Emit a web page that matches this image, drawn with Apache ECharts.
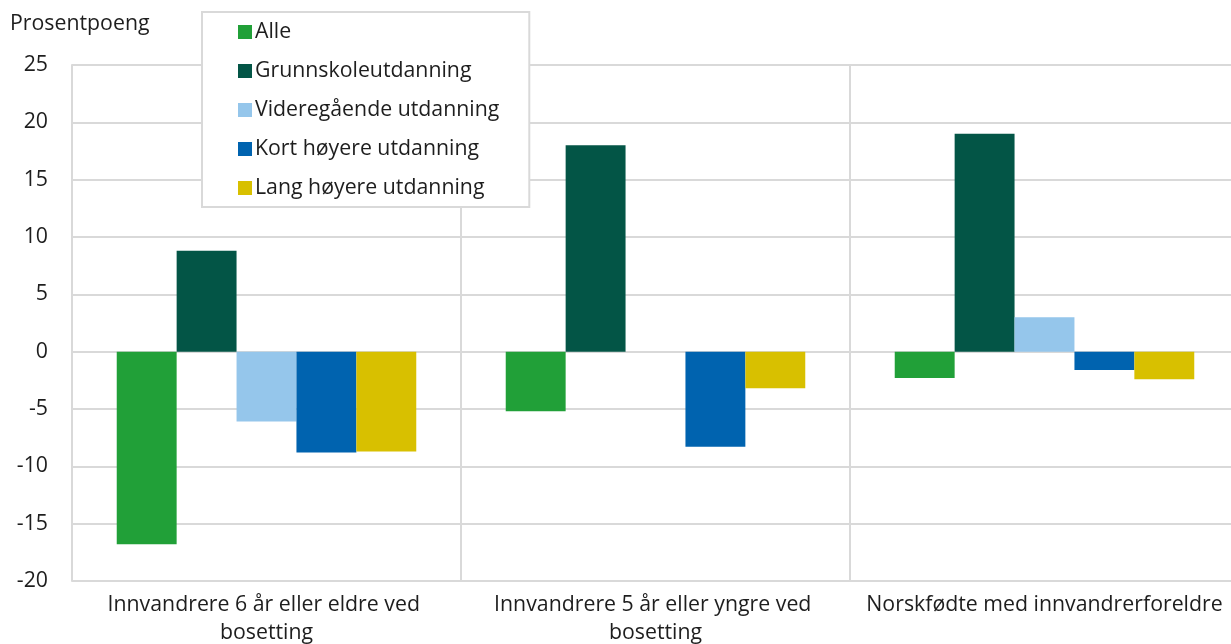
<!DOCTYPE html>
<html lang="no">

<head>
  <meta charset="UTF-8">
  <title>Prosentpoeng etter utdanning</title>
  <style>
    html, body { margin: 0; padding: 0; background: #fff; }
    #chart { width: 1231px; height: 644px; }
  </style>
  <script src="https://cdn.jsdelivr.net/npm/echarts@6/dist/echarts.min.js"></script>
</head>

<body>
  <div id="chart"></div>
  <script>
    // data
    var categories = [
      'Innvandrere 6 år eller eldre ved bosetting',
      'Innvandrere 5 år eller yngre ved bosetting',
      'Norskfødte med innvandrerforeldre'
    ];
    var seriesNames = ['Alle', 'Grunnskoleutdanning', 'Videregående utdanning', 'Kort høyere utdanning', 'Lang høyere utdanning'];
    var alle = [-16.8, -5.2, -2.3];
    var grunnskole = [8.8, 18.0, 19.0];
    var videregaende = [-6.1, null, 3.0];
    var kortHoyere = [-8.8, -8.3, -1.6];
    var langHoyere = [-8.7, -3.2, -2.4];
    var colors = ['#21a038', '#035546', '#95c6eb', '#0063af', '#d8c000'];

    var font = '"Open Sans", "Noto Sans", sans-serif';
    var textColor = '#1e1e1e';
    var gridColor = '#d9d9d9';
    var fs = 21.3;

    var values = [alle, grunnskole, videregaende, kortHoyere, langHoyere];

    var chart = echarts.init(document.getElementById('chart'));
    var option = {
      animation: false,
      color: colors,
      textStyle: { fontFamily: font, color: textColor },
      title: {
        text: 'Prosentpoeng',
        left: 5,
        top: 8,
        textStyle: { fontFamily: font, fontSize: fs, fontWeight: 'normal', color: textColor }
      },
      legend: {
        orient: 'vertical',
        left: 202,
        top: 12,
        padding: [8, 30, 7, 36],
        backgroundColor: '#fff',
        borderColor: gridColor,
        borderWidth: 2,
        borderRadius: 0,
        itemWidth: 14,
        itemHeight: 14,
        itemGap: 15,
        icon: 'rect',
        textStyle: { fontFamily: font, fontSize: fs, lineHeight: 24, color: textColor, padding: [0, 0, 0, -2] },
        data: seriesNames
      },
      // plot runs a little past the right edge of the canvas, as in the original
      grid: { left: 72, width: 1167, top: 65, bottom: 63, outerBoundsMode: 'none' },
      xAxis: {
        type: 'category',
        data: categories,
        axisLine: { show: false },
        axisTick: { show: false },
        splitLine: { show: true, lineStyle: { color: gridColor, width: 2 } },
        axisLabel: {
          margin: 10,
          fontFamily: font,
          fontSize: fs,
          lineHeight: 28,
          color: textColor,
          width: 375,
          overflow: 'break',
          interval: 0
        }
      },
      yAxis: {
        type: 'value',
        min: -20,
        max: 25,
        interval: 5,
        axisLine: { show: true, lineStyle: { color: gridColor, width: 2 } },
        axisTick: { show: false },
        splitLine: { lineStyle: { color: gridColor, width: 2 } },
        axisLabel: { margin: 24, fontFamily: font, fontSize: fs, color: textColor }
      },
      series: seriesNames.map(function (name, i) {
        return {
          name: name,
          type: 'bar',
          data: values[i],
          barGap: 0,
          barCategoryGap: '23%',
          itemStyle: { color: colors[i] }
        };
      })
    };
    chart.setOption(option);
  </script>
</body>

</html>
